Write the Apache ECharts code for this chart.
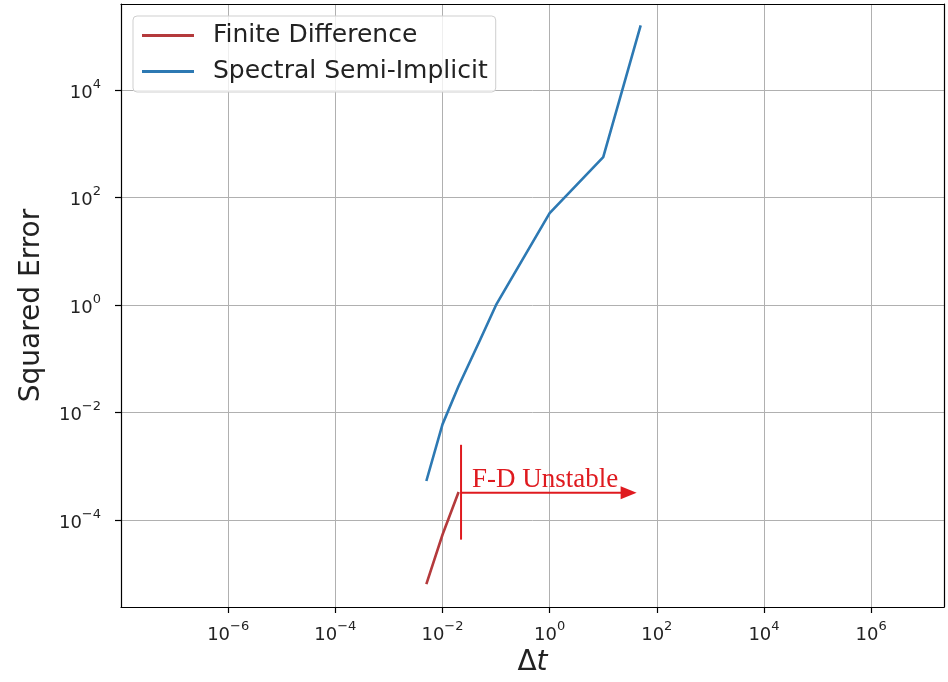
<!DOCTYPE html>
<html><head><meta charset="utf-8">
<script src="https://cdn.jsdelivr.net/npm/echarts@6/dist/echarts.min.js"></script>
<style>html,body{margin:0;padding:0;background:#fff}#c{width:948px;height:682px}</style>
</head><body><div id="c"></div>
<script>
// ---- data ----
const seriesNames = ['Finite Difference', 'Spectral Semi-Implicit'];
const fdDt   = [0.005, 0.01, 0.02];
const fdErr  = [6.4e-6, 5.3e-5, 3.3e-4];
const ssiDt  = [0.005, 0.01, 0.02, 0.05, 0.1, 1, 10, 50];
const ssiErr = [5.3e-4, 6.0e-3, 0.031, 0.22, 1.0, 51, 565, 1.6e5];
// axis extents, in decades
const xExtentExp = [-8, 7.36];
const yExtentExp = [-5.62, 5.6];
const xTitle = 'Δt';
const yTitle = 'Squared Error';
// annotation (data space)
const annotationText = 'F-D Unstable';
const boundaryDt = 0.0222;
const boundaryErrRange = [2.5e-3, 4.3e-5];
const arrowErr = 3.2e-4;
const arrowEndDt = 42;
const textAnchor = [0.0357, 4.1e-4];

const L = Math.log10;
const toPts = (xs, ys) => xs.map((x, i) => [L(x), L(ys[i])]);
const sup = v => {
  const n = Math.round(v);
  const s = (n < 0 ? '\u2212' : '') + Math.abs(n);
  return '{b|10}{s|' + s + '}';
};
const tickRich = {
  b: {fontFamily: 'DejaVu Sans', fontSize: 18, color: '#222', lineHeight: 24, verticalAlign: 'bottom'},
  s: {fontFamily: 'DejaVu Sans', fontSize: 13, color: '#222', lineHeight: 13, verticalAlign: 'top'}
};
const gridColor = '#b0b0b0';
const frameLine = {show: true, onZero: false, lineStyle: {color: '#000', width: 1.2}};
const hiddenAxis = {type: 'value', axisLine: frameLine, axisTick: {show: false}, axisLabel: {show: false}, splitLine: {show: false}};
const chart = echarts.init(document.getElementById('c'), null, {renderer: 'canvas'});
chart.setOption({
  animation: false,
  backgroundColor: '#fff',
  grid: {left: 121, right: 4, top: 4, bottom: 75, show: false},
  legend: {
    orient: 'vertical', left: 133, top: 16, icon: 'rect', itemWidth: 52, itemHeight: 3, itemGap: 11,
    padding: [7, 8, 8, 9], backgroundColor: 'rgba(255,255,255,0.8)', borderColor: '#cfcfcf',
    borderWidth: 1, borderRadius: 4,
    textStyle: {fontFamily: 'DejaVu Sans', fontSize: 25, color: '#222', padding: [0, 0, 0, 14]},
    data: seriesNames
  },
  xAxis: [{
    type: 'value', position: 'bottom', min: xExtentExp[0], max: xExtentExp[1], minInterval: 2, maxInterval: 2, splitNumber: 8,
    axisLine: frameLine,
    axisTick: {show: true, length: 6, lineStyle: {color: '#000', width: 1.2}},
    splitLine: {show: true, lineStyle: {color: gridColor, width: 1}},
    axisLabel: {showMinLabel: false, showMaxLabel: false, margin: 13, formatter: sup, rich: tickRich},
    name: '{a|Δ}{i|t}', nameLocation: 'middle', nameGap: 38,
    nameTextStyle: {rich: {a: {fontFamily: 'DejaVu Sans', fontSize: 28, color: '#222'}, i: {fontFamily: 'DejaVu Sans', fontStyle: 'italic', fontSize: 28, color: '#222'}}}
  }, Object.assign({position: 'top', min: xExtentExp[0], max: xExtentExp[1]}, hiddenAxis)],
  yAxis: [{
    type: 'value', position: 'left', min: yExtentExp[0], max: yExtentExp[1], minInterval: 2, maxInterval: 2, splitNumber: 6,
    axisLine: frameLine,
    axisTick: {show: true, length: 6, lineStyle: {color: '#000', width: 1.2}},
    splitLine: {show: true, lineStyle: {color: gridColor, width: 1}},
    axisLabel: {showMinLabel: false, showMaxLabel: false, margin: 20, formatter: sup, rich: tickRich},
    name: yTitle, nameLocation: 'middle', nameGap: 75,
    nameTextStyle: {fontFamily: 'DejaVu Sans', fontSize: 28, color: '#222'}
  }, Object.assign({position: 'right', min: yExtentExp[0], max: yExtentExp[1]}, hiddenAxis)],
  series: [
    {name: seriesNames[0], type: 'line', data: toPts(fdDt, fdErr), showSymbol: false, color: '#b43a3c', lineStyle: {width: 2.6}},
    {name: seriesNames[1], type: 'line', data: toPts(ssiDt, ssiErr), showSymbol: false, color: '#2d79b3', lineStyle: {width: 2.6}}
  ]
});

// annotation
const red = '#df1a1f';
const px = (x, y) => chart.convertToPixel({gridIndex: 0}, [L(x), L(y)]);
const v0 = px(boundaryDt, boundaryErrRange[0]);
const v1 = px(boundaryDt, boundaryErrRange[1]);
const a0 = px(boundaryDt, arrowErr);
const a1 = px(arrowEndDt, arrowErr);
const t0 = px(textAnchor[0], textAnchor[1]);
const headLen = 16, headHalf = 6.5;
chart.setOption({
  graphic: [
    {type: 'line', shape: {x1: v0[0], y1: v0[1], x2: v1[0], y2: v1[1]}, style: {stroke: red, lineWidth: 2}, z: 100},
    {type: 'line', shape: {x1: a0[0], y1: a0[1], x2: a1[0] - headLen + 1, y2: a1[1]}, style: {stroke: red, lineWidth: 2}, z: 100},
    {type: 'polygon', shape: {points: [[a1[0], a1[1]], [a1[0] - headLen, a1[1] - headHalf], [a1[0] - headLen, a1[1] + headHalf]]}, style: {fill: red}, z: 100},
    {type: 'text', x: t0[0], y: t0[1] + 6, style: {text: annotationText, fill: red, font: '27px "Liberation Serif"', verticalAlign: 'bottom', align: 'left'}, z: 100}
  ]
});
</script></body></html>
